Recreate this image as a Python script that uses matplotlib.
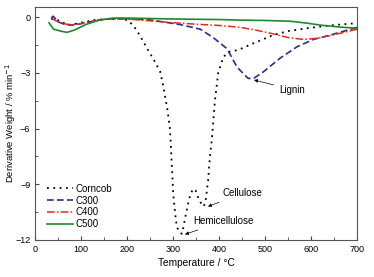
import numpy as np
import matplotlib.pyplot as plt
from matplotlib.ticker import MultipleLocator

plt.rcParams['font.family'] = ['Liberation Sans', 'DejaVu Sans']

# Data ----------------------------------------------------
corncob_t = [35, 45, 60, 76, 100, 130, 160, 190, 200, 213, 228, 243, 258, 272, 278, 287,
             293, 298, 300, 304, 308, 314, 319, 322, 327, 333, 338, 344, 349, 354, 360,
             366, 370, 376, 380, 384, 391, 398, 409, 420, 435, 446, 480, 517, 550, 591,
             640, 691, 700]
corncob_y = [-0.1, -0.1, -0.3, -0.43, -0.3, -0.15, -0.1, -0.1, -0.16, -0.43, -1.0, -1.67, -2.3,
             -2.95, -3.65, -4.9, -6.0, -8.4, -9.5, -10.5, -11.3, -11.6, -11.67, -11.35, -10.7,
             -10.0, -9.5, -9.25, -9.35, -9.7, -10.0, -10.2, -10.0, -8.8, -7.5, -6.6, -4.46,
             -3.0, -2.15, -1.88, -1.8, -1.72, -1.35, -0.97, -0.75, -0.6, -0.45, -0.34, -0.33]

c300_t = [35, 39, 50, 65, 83, 110, 140, 170, 200, 250, 315, 359, 387, 417, 439, 463, 475,
          496, 533, 569, 605, 641, 700]
c300_y = [-0.05, 0.05, -0.25, -0.4, -0.43, -0.3, -0.15, -0.08, -0.08, -0.15, -0.4, -0.65,
          -1.1, -1.7, -2.7, -3.3, -3.3, -2.95, -2.2, -1.6, -1.2, -0.97, -0.55]

c400_t = [35, 45, 60, 75, 100, 130, 160, 200, 250, 300, 350, 400, 446, 480, 517, 550, 583,
          610, 641, 700]
c400_y = [-0.05, -0.2, -0.35, -0.4, -0.35, -0.2, -0.1, -0.1, -0.2, -0.3, -0.38, -0.45,
          -0.55, -0.7, -0.9, -1.1, -1.2, -1.15, -1.0, -0.65]

c500_t = [30, 40, 55, 69, 85, 110, 140, 170, 200, 300, 400, 446, 500, 554, 590, 620, 660, 700]
c500_y = [-0.3, -0.65, -0.75, -0.82, -0.7, -0.4, -0.15, -0.05, -0.05, -0.1, -0.13, -0.16,
          -0.18, -0.22, -0.32, -0.43, -0.53, -0.6]

fig = plt.figure(figsize=(3.74, 2.77), dpi=100)
ax = fig.add_axes([0.094, 0.134, 0.861, 0.841])

ax.plot(corncob_t, corncob_y, color='black', linestyle=(0, (1, 2.5)), lw=1.3, label='Corncob')
ax.plot(c300_t, c300_y, color='#2b2d8f', linestyle=(0, (4, 2)), lw=1.2, label='C300')
ax.plot(c400_t, c400_y, color='#e8271b', linestyle=(0, (5, 1.5, 1, 1.5)), lw=1.1, label='C400')
ax.plot(c500_t, c500_y, color='#1e8a2e', linestyle='-', lw=1.2, label='C500')

ax.set_xlim(0, 700)
ax.set_ylim(-12, 0.55)
ax.xaxis.set_major_locator(MultipleLocator(100))
ax.xaxis.set_minor_locator(MultipleLocator(50))
ax.yaxis.set_major_locator(MultipleLocator(3))
ax.yaxis.set_minor_locator(MultipleLocator(1.5))
ax.tick_params(which='both', direction='in', labelsize=6.5, color='#444444')
ax.tick_params(which='major', length=3)
ax.tick_params(which='minor', length=2)
for s in ax.spines.values():
    s.set_color('#555555')
    s.set_linewidth(0.8)

ax.set_xlabel('Temperature / °C', fontsize=7.3, labelpad=3)
ax.set_ylabel('Derivative Weight / % min$^{-1}$', fontsize=6.8)
ax.yaxis.set_label_coords(-0.052, 0.5)

arrow = dict(arrowstyle='-|>', color='black', lw=0.5, mutation_scale=5)
ax.annotate('Lignin', xy=(470, -3.35), xytext=(530, -3.9), fontsize=7,
            va='center', arrowprops=arrow)
ax.annotate('Cellulose', xy=(370, -10.25), xytext=(408, -9.5), fontsize=7,
            va='center', arrowprops=arrow)
ax.annotate('Hemicellulose', xy=(320, -11.75), xytext=(343, -11.0), fontsize=7,
            va='center', arrowprops=arrow)

ax.legend(loc='lower left', bbox_to_anchor=(0.02, 0.02), frameon=False, fontsize=7,
          handlelength=2.6, handletextpad=0.3, labelspacing=0.2, borderaxespad=0.2)

fig.savefig('out.png', dpi=100)
